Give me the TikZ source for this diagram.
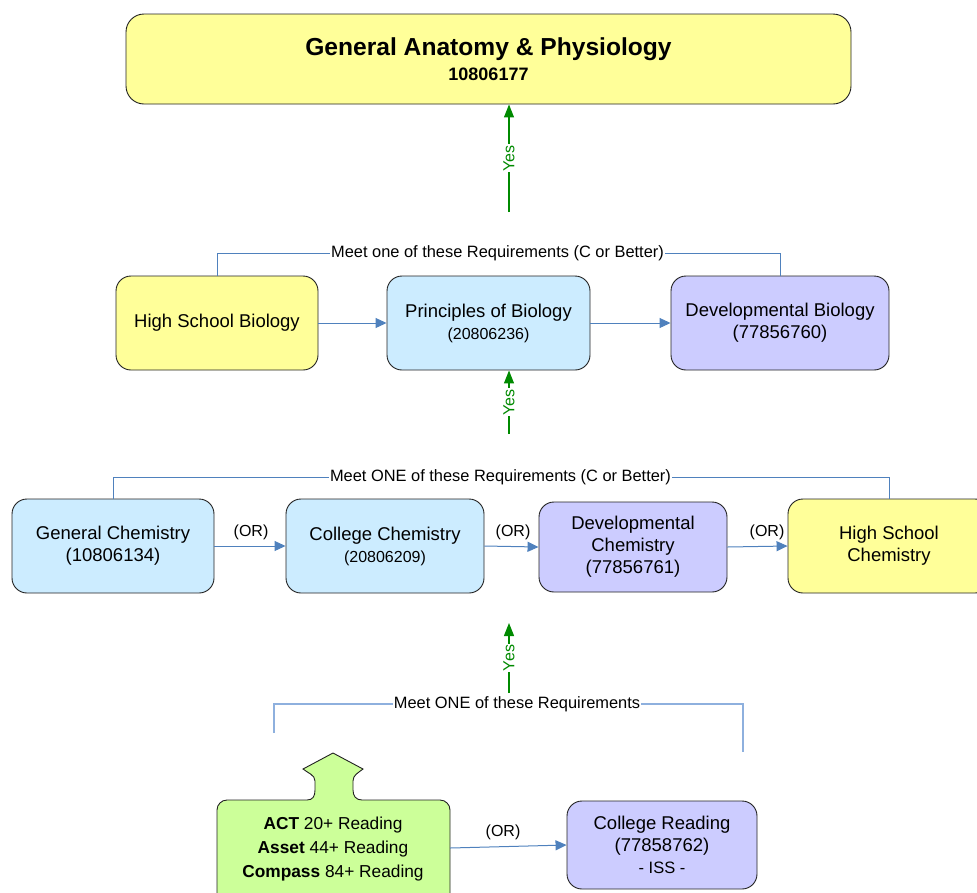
\documentclass[tikz,border=0pt]{standalone}
\usepackage{fontspec}
\setmainfont{Liberation Sans}
\usetikzlibrary{arrows.meta}
\definecolor{cyel}{HTML}{FFFF99}
\definecolor{cblue}{HTML}{CCECFF}
\definecolor{cpurp}{HTML}{CCCCFF}
\definecolor{cgreen}{HTML}{CCFF99}
\definecolor{lineblue}{HTML}{4F81BD}
\definecolor{lightline}{HTML}{8EB0DE}
\definecolor{yesgreen}{HTML}{008A00}
\definecolor{bordercol}{HTML}{222222}
\tikzset{
 box/.style={draw=bordercol, line width=0.9pt, rounded corners=15pt, align=center, inner sep=0pt, font=\fontsize{18.5}{22}\selectfont},
 orarrow/.style={draw=lineblue, line width=1pt, -{Triangle[length=11pt,width=10pt]}},
 bracket/.style={draw=lineblue, line width=1pt},
 lbracket/.style={draw=lightline, line width=1.3pt},
 yesarrow/.style={draw=yesgreen, line width=1.2pt, -{Triangle[length=13pt,width=10pt]}},
 yeslabel/.style={fill=white, text=yesgreen, rotate=90, inner sep=1pt, font=\fontsize{16}{18}\selectfont},
 lbl/.style={fill=white, inner sep=1pt, font=\fontsize{16.4}{18}\selectfont},
 orlbl/.style={inner sep=0pt, font=\fontsize{16}{18}\selectfont},
 tests/.style={align=center, inner sep=0pt, font=\fontsize{17.3}{24}\selectfont},
}
\begin{document}
\begin{tikzpicture}[x=1pt,y=1pt]
\clip (0,0) rectangle (977,-892);
% top
\node[box, fill=cyel, rounded corners=18pt, minimum width=725pt, minimum height=90pt] (top) at (488.5,-59)
 {{\fontsize{24.6}{27}\selectfont\bfseries General Anatomy \& Physiology}\\[3pt]{\fontsize{18}{22}\selectfont\bfseries 10806177}};
% row 2
\node[box, fill=cyel, minimum width=202pt, minimum height=94pt] (hsb) at (217,-323) {High School Biology};
\node[box, fill=cblue, minimum width=203pt, minimum height=94pt] (pob) at (488.5,-323) {Principles of Biology\\{\fontsize{16}{22}\selectfont (20806236)}};
\node[box, fill=cpurp, minimum width=218pt, minimum height=94pt] (devbio) at (780,-323) {Developmental Biology\\(77856760)};
\draw[orarrow] (hsb.east) -- (pob.west);
\draw[orarrow] (pob.east) -- (devbio.west);
\node[lbl] (req1) at (497.5,-253) {Meet one of these Requirements (C or Better)};
\draw[bracket] (hsb.north) |- (req1.west);
\draw[bracket] (req1.east) -| (devbio.north);
% yes 1
\coordinate (y1) at (509,-212);
\draw[yesarrow] (y1) -- (y1 |- top.south) node[yeslabel, midway] (yes1) {Yes};
% yes 2
\coordinate (y2) at (509,-434);
\draw[yesarrow] (y2) -- (y2 |- pob.south) node[yeslabel, midway] (yes2) {Yes};
% row 3
\node[box, fill=cblue, minimum width=202pt, minimum height=94pt] (genchem) at (113,-546) {General Chemistry\\(10806134)};
\node[box, fill=cblue, minimum width=198pt, minimum height=94pt] (colchem) at (385,-546) {College Chemistry\\{\fontsize{16}{22}\selectfont (20806209)}};
\node[box, fill=cpurp, minimum width=188pt, minimum height=90pt] (devchem) at (633,-547) {Developmental\\Chemistry\\(77856761)};
\node[box, fill=cyel, minimum width=202pt, minimum height=94pt] (hschem) at (889,-546) {High School\\Chemistry};
\draw[orarrow] (genchem.east) -- (colchem.west);
\draw[orarrow] (colchem.east) -- (devchem.west);
\draw[orarrow] (devchem.east) -- (hschem.west);
\node[orlbl] (or1) at (251,-532) {(OR)};
\node[orlbl] (or2) at (513,-532) {(OR)};
\node[orlbl] (or3) at (767,-532) {(OR)};
\node[lbl] (req2) at (500.5,-477) {Meet ONE of these Requirements (C or Better)};
\draw[bracket] (genchem.north) |- (req2.west);
\draw[bracket] (req2.east) -| (hschem.north);
% yes 3
\coordinate (y3a) at (509,-693);
\coordinate (y3b) at (509,-623);
\draw[yesarrow] (y3a) -- (y3b) node[yeslabel, midway] (yes3) {Yes};
% bracket 4
\node[lbl] (req3) at (517,-704) {Meet ONE of these Requirements};
\coordinate (b4l) at (274,-733);
\coordinate (b4r) at (743,-752);
\draw[lbracket] (b4l) |- (req3.west);
\draw[lbracket] (req3.east) -| (b4r);
% green test shape
\filldraw[fill=cgreen, draw=bordercol, line width=0.9pt]
 (217,-905) -- (217,-810) arc[start angle=180, end angle=90, radius=10]
 -- (307,-800) .. controls (313,-800) and (315,-796) .. (315,-790)
 -- (315,-781) .. controls (315,-775) and (308,-773) .. (303,-769)
 -- (333,-753) -- (363,-769)
 .. controls (358,-773) and (353,-775) .. (353,-781)
 -- (353,-790) .. controls (353,-796) and (356,-800) .. (362,-800)
 -- (440,-800) arc[start angle=90, end angle=0, radius=10] -- (450,-905) -- cycle;
\node[tests] (tests) at (333,-849) {\textbf{ACT} 20+ Reading\\\textbf{Asset} 44+ Reading\\\textbf{Compass} 84+ Reading};
\coordinate (testsE) at (450,-848);
\node[box, fill=cpurp, minimum width=190pt, minimum height=88pt] (colread) at (662,-845) {College Reading\\(77858762)\\{\fontsize{16.5}{20}\selectfont - ISS -}};
\draw[orarrow] (testsE) -- (colread.west);
\node[orlbl] (or4) at (503,-832) {(OR)};
\end{tikzpicture}
\end{document}
